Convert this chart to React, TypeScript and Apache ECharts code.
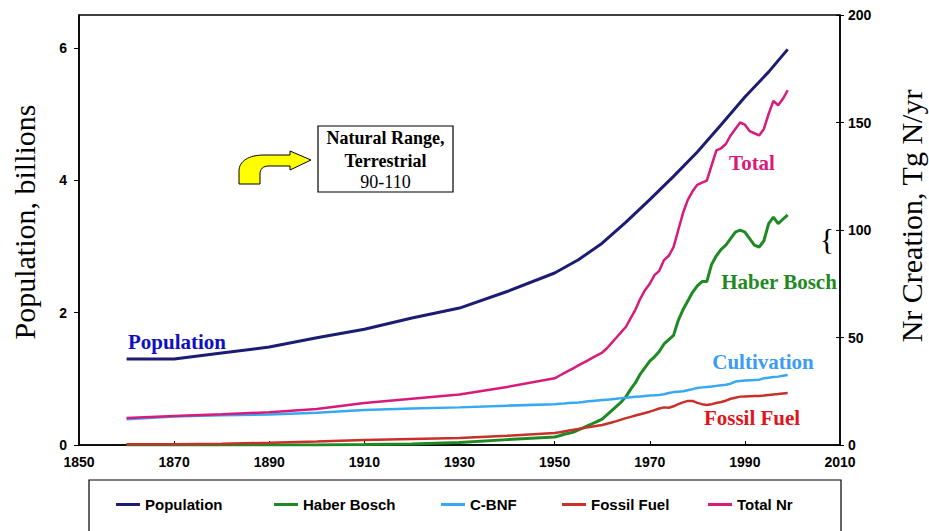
import React, { useEffect, useRef } from "react";
import * as echarts from "echarts";

const popYears = [1860, 1870, 1880, 1890, 1900, 1910, 1920, 1930, 1940, 1950, 1955, 1960, 1965, 1970, 1975, 1980, 1985, 1990, 1995, 1999];
const popValues = [1.3, 1.3, 1.39, 1.48, 1.62, 1.75, 1.92, 2.07, 2.32, 2.6, 2.8, 3.05, 3.37, 3.71, 4.06, 4.43, 4.84, 5.26, 5.64, 5.98];

const nrYears = [
  1860, 1870, 1880, 1890, 1900, 1910, 1920, 1930, 1940,
  1950, 1951, 1952, 1953, 1954, 1955, 1956, 1957, 1958, 1959,
  1960, 1961, 1962, 1963, 1964, 1965, 1966, 1967, 1968, 1969,
  1970, 1971, 1972, 1973, 1974, 1975, 1976, 1977, 1978, 1979,
  1980, 1981, 1982, 1983, 1984, 1985, 1986, 1987, 1988, 1989,
  1990, 1991, 1992, 1993, 1994, 1995, 1996, 1997, 1998, 1999,
];
const haberBosch = [
  0, 0, 0, 0, 0, 0.2, 0.5, 1.2, 2.5,
  3.7, 4.3, 5, 5.5, 6, 7, 8, 9, 10, 11,
  12, 14, 16, 18, 20, 22.5, 26, 29, 33, 36,
  39, 41, 43.5, 47, 49, 51, 58, 63, 67, 71,
  74, 76, 76, 84, 88, 91, 93, 96, 99, 100,
  99, 96, 93, 92, 95, 103, 106, 103, 105, 107,
];
const cbnf = [
  12, 13.3, 13.8, 14.2, 15, 16.3, 17, 17.5, 18.3,
  19, 19.2, 19.3, 19.5, 19.7, 19.8, 20, 20.3, 20.5, 20.7,
  20.9, 21.1, 21.3, 21.5, 21.8, 22, 22.2, 22.4, 22.6, 22.8,
  23, 23.1, 23.3, 23.6, 24.2, 24.6, 24.8, 25, 25.5, 26,
  26.5, 26.8, 27, 27.2, 27.5, 27.8, 28, 28.5, 29.5, 29.8,
  30, 30.1, 30.2, 30.4, 31, 31.3, 31.6, 31.8, 32.2, 32.6,
];
const fossilFuel = [
  0.3, 0.4, 0.6, 1, 1.6, 2.3, 2.8, 3.3, 4.3,
  5.6, 5.9, 6.3, 6.7, 7.1, 7.5, 7.9, 8.2, 8.6, 9,
  9.3, 9.9, 10.5, 11.1, 11.8, 12.5, 13.1, 13.7, 14.3, 14.9,
  15.5, 16.2, 17, 17.5, 17.3, 18, 19, 19.8, 20.5, 20.5,
  19.6, 19, 18.6, 19, 19.5, 20, 20.6, 21.5, 22, 22.5,
  22.6, 22.7, 22.8, 22.8, 23, 23.3, 23.5, 23.7, 24, 24.2,
];
const totalNr = [
  12.6, 13.5, 14.3, 15.2, 16.7, 19.5, 21.5, 23.5, 27,
  31, 32.2, 33.4, 34.6, 35.8, 37, 38.2, 39.4, 40.6, 41.8,
  43, 45, 47.5, 50, 52.5, 55, 59, 63, 68, 72,
  75, 79, 81, 86, 88, 92, 100, 108, 114, 118,
  121, 122, 123, 130, 137, 138, 140, 144, 147, 150,
  149, 146, 145, 144, 147, 154, 160, 158, 161, 165,
];

const legendNames = ["Population", "Haber Bosch", "C-BNF", "Fossil Fuel", "Total Nr"];
const seriesColors = ["#1c1c72", "#1f8a23", "#36a9f0", "#c8302a", "#d81b7a"];
const leftTicks = [0, 2, 4, 6];

const ARROW_D = "M0 33 L0 20 C0 10 10 4 25 4 L51 4 L51 0 L72 9 L51 19 L51 15 L30 15 C24 15 21 18 21 23 L21 33 Z";
let arrowRegistered = false;
function registerArrow() {
  if (arrowRegistered) return;
  echarts.graphic.registerShape("natArrow", echarts.graphic.extendPath(ARROW_D, {}) as any);
  arrowRegistered = true;
}

const SERIF = "'Liberation Serif', 'Times New Roman', serif";
const SANS = "'Liberation Sans', Arial, sans-serif";

function pairs(xs: number[], ys: number[]) {
  return xs.map((x, i) => [x, ys[i]]);
}

function txt(x: number, y: number, text: string, font: string, fill: string, rotation = 0) {
  return {
    type: "text",
    x,
    y,
    rotation,
    silent: true,
    style: {
      text,
      font,
      fill,
      align: "center",
      verticalAlign: "middle",
      textAlign: "center",
      textVerticalAlign: "middle",
    },
  };
}

export default function App() {
  const ref = useRef<HTMLDivElement>(null);
  useEffect(() => {
    if (!ref.current) return;
    registerArrow();
    const chart = echarts.init(ref.current, null, { renderer: "svg" });
    const legendLefts = [116, 274, 441, 562, 708];
    const seriesData = [
      pairs(popYears, popValues),
      pairs(nrYears, haberBosch),
      pairs(nrYears, cbnf),
      pairs(nrYears, fossilFuel),
      pairs(nrYears, totalNr),
    ];
    const widths = [3, 3, 2.5, 2.5, 2.5];
    chart.setOption({
      animation: false,
      backgroundColor: "#fff",
      grid: { left: 79, right: 89, top: 15, bottom: 86, show: true, borderColor: "#000", borderWidth: 1.5 },
      xAxis: {
        type: "value",
        min: 1850,
        max: 2010,
        interval: 20,
        splitLine: { show: false },
        axisLine: { lineStyle: { color: "#000", width: 1.5 } },
        axisTick: { inside: true, length: 4, lineStyle: { color: "#000" } },
        axisLabel: {
          color: "#000",
          fontFamily: SANS,
          fontWeight: "bold",
          fontSize: 14,
          margin: 10,
          formatter: (v: number) => String(v),
        },
      },
      yAxis: [
        {
          type: "value",
          min: 0,
          max: 6.5,
          interval: 2,
          position: "left",
          splitLine: { show: false },
          axisLine: { show: true, lineStyle: { color: "#000", width: 1.5 } },
          axisTick: { show: true, length: 5, customValues: leftTicks, lineStyle: { color: "#000" } },
          axisLabel: { customValues: leftTicks, color: "#000", fontFamily: SANS, fontWeight: "bold", fontSize: 14, margin: 12 },
        },
        {
          type: "value",
          min: 0,
          max: 200,
          interval: 50,
          position: "right",
          splitLine: { show: false },
          axisLine: { show: true, lineStyle: { color: "#000", width: 1.5 } },
          axisTick: { show: true, length: 4, lineStyle: { color: "#000" } },
          axisLabel: { color: "#000", fontFamily: SANS, fontWeight: "bold", fontSize: 14, margin: 8 },
        },
        {
          type: "value",
          min: 0,
          max: 200,
          interval: 50,
          position: "right",
          splitLine: { show: false },
          axisLine: { show: false },
          axisTick: { show: true, inside: true, length: 4, lineStyle: { color: "#000" } },
          axisLabel: { show: false },
        },
      ],
      legend: legendNames.map((name, i) => ({
        data: [{ name, icon: "rect" }],
        left: legendLefts[i],
        top: 497,
        padding: 0,
        itemWidth: 24,
        itemHeight: 3,
        itemGap: 0,
        selectedMode: false,
        textStyle: { color: "#000", fontFamily: SANS, fontWeight: "bold", fontSize: 15 },
      })),
      series: legendNames.map((name, i) => ({
        name,
        type: "line",
        yAxisIndex: i === 0 ? 0 : 1,
        data: seriesData[i],
        showSymbol: false,
        symbol: "none",
        itemStyle: { color: seriesColors[i] },
        lineStyle: { color: seriesColors[i], width: widths[i] },
        z: i === 0 ? 3 : 2,
      })),
      graphic: [
        { type: "rect", silent: true, shape: { x: 89, y: 480, width: 752, height: 80 }, style: { fill: "none", stroke: "#000", lineWidth: 1.2 } },
        { type: "rect", silent: true, shape: { x: 318, y: 126, width: 135, height: 66 }, style: { fill: "#fff", stroke: "#000", lineWidth: 1.2 } },
        txt(385.5, 138, "Natural Range,", `bold 18px ${SERIF}`, "#000"),
        txt(385.5, 161, "Terrestrial", `bold 18px ${SERIF}`, "#000"),
        txt(385.5, 182, "90-110", `18px ${SERIF}`, "#000"),
        { type: "natArrow", x: 239, y: 151, silent: true, style: { fill: "#ffff00", stroke: "#000", lineWidth: 1 } },
        txt(827, 238, "{", `30px ${SERIF}`, "#000"),
        txt(24, 222, "Population, billions", `30px ${SERIF}`, "#000", Math.PI / 2),
        txt(911, 216, "Nr Creation, Tg N/yr", `30px ${SERIF}`, "#000", Math.PI / 2),
        txt(177, 342, "Population", `bold 21px ${SERIF}`, "#1010c0"),
        txt(752, 163, "Total", `bold 21px ${SERIF}`, "#d81b7a"),
        txt(779, 282, "Haber Bosch", `bold 21px ${SERIF}`, "#1f8a23"),
        txt(763, 362, "Cultivation", `bold 21px ${SERIF}`, "#3a9cf5"),
        txt(752, 418, "Fossil Fuel", `bold 21px ${SERIF}`, "#e0141a"),
      ],
    });
    return () => chart.dispose();
  }, []);
  return <div ref={ref} style={{ position: "fixed", left: 0, top: 0, width: 929, height: 531, background: "#fff" }} />;
}
